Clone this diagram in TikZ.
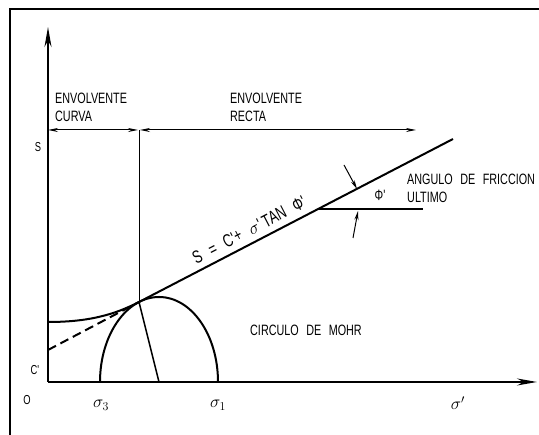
\documentclass[tikz,border=0pt]{standalone}
\usepackage{fontspec}
\newfontfamily\cadfont[FakeStretch=0.72,WordSpace=2.5]{Liberation Sans}
\usetikzlibrary{arrows.meta,positioning,calc}

\begin{document}
\begin{tikzpicture}[x=1pt, y=1pt,
  lbl/.style={font=\cadfont\fontsize{15}{17.4}\selectfont, inner sep=0pt, align=left},
  eqlbl/.style={font=\cadfont\fontsize{18}{18}\selectfont, inner sep=0pt},
  axlbl/.style={font=\cadfont\fontsize{13}{13}\selectfont, inner sep=0pt},
  greek/.style={font=\fontsize{18}{18}\selectfont, inner sep=0pt},
  mainline/.style={line width=2pt},
  thinline/.style={line width=1pt},
  axisarr/.style={line width=2pt, -{Stealth[length=20pt,width=7pt]}},
  dimarr/.style={thinline, {Stealth[length=10pt,width=4pt]}-{Stealth[length=10pt,width=4pt]}},
  angarr/.style={thinline, -{Stealth[length=9pt,width=4pt]}}
]
\useasboundingbox (0,0) rectangle (539,435);

% frame
\coordinate (frameBL) at (10,0);
\coordinate (frameTL) at (10,426);
\coordinate (frameTR) at (539,426);
\draw[line width=2.4pt] (frameBL) -- (frameTL) -- (frameTR);

% axes
\coordinate (O) at (48,53);
\coordinate (ytop) at (48,408);
\coordinate (xend) at (537,53);
\draw[axisarr] (O) -- (ytop);
\draw[axisarr] (O) -- (xend);

% points of the envelope
\coordinate (T) at (139,133);
\coordinate (E) at (453,296);
\coordinate (Cp) at (48,85);
\coordinate (cv0) at (48,113);

% dimension line
\coordinate (dimL) at (48,305);
\coordinate (dimM) at (139,305);
\coordinate (dimR) at (416,305);
\draw[dimarr] (dimL) -- ([xshift=-1pt]dimM);
\draw[dimarr] ([xshift=1pt]dimM) -- (dimR);
\draw[thinline] (dimM) -- (T);

\node[lbl, anchor=north west] (curva) at (55,342) {ENVOLVENTE\\CURVA};
\node[lbl, anchor=north west] (recta) at (230,342) {ENVOLVENTE\\RECTA};

% envelope
\draw[mainline] (cv0) .. controls (88,113) and (114,120) .. (T);
\draw[mainline, dashed, dash pattern=on 9pt off 5pt] (Cp) -- (T);
\draw[mainline] (T) -- (E)
  node[eqlbl, pos=0.37, sloped, above=6pt] (eq) {S = C'+ $\sigma$'\,TAN Φ'};

% Mohr circle
\coordinate (s3) at (100,53);
\coordinate (s1) at (218,53);
\coordinate (mc) at (159,53);
\draw[mainline] (s3) arc[start angle=180, end angle=0, x radius=59, y radius=85];
\draw[line width=1.5pt] (T) -- (mc);

% friction angle
\coordinate (H1) at (318,226);
\coordinate (H2) at (423,226);
\draw[mainline] (H1) -- (H2);
\coordinate (a1s) at (344,270);
\coordinate (a1e) at (357,246);
\coordinate (a2s) at (353,197);
\coordinate (a2e) at (358,224);
\draw[angarr] (a1s) -- (a1e);
\draw[angarr] (a2s) -- (a2e);
\node[lbl] (phi) at (380,240) {Φ'};
\node[lbl, anchor=north west] (angulo) at (407,261) {ANGULO DE FRICCION\\ULTIMO};

% labels
\node[lbl, anchor=west] (mohr) at (250,105) {CIRCULO DE MOHR};
\node[axlbl] (slbl) at (38,288) {S};
\node[axlbl] (clbl) at (35,65) {C'};
\node[axlbl] (olbl) at (27,35) {O};
\node[greek] (sig3) at (101,30) {$\sigma_3$};
\node[greek] (sig1) at (218,30) {$\sigma_1$};
\node[greek] (sigp) at (458,32) {$\sigma'$};
\end{tikzpicture}
\end{document}
